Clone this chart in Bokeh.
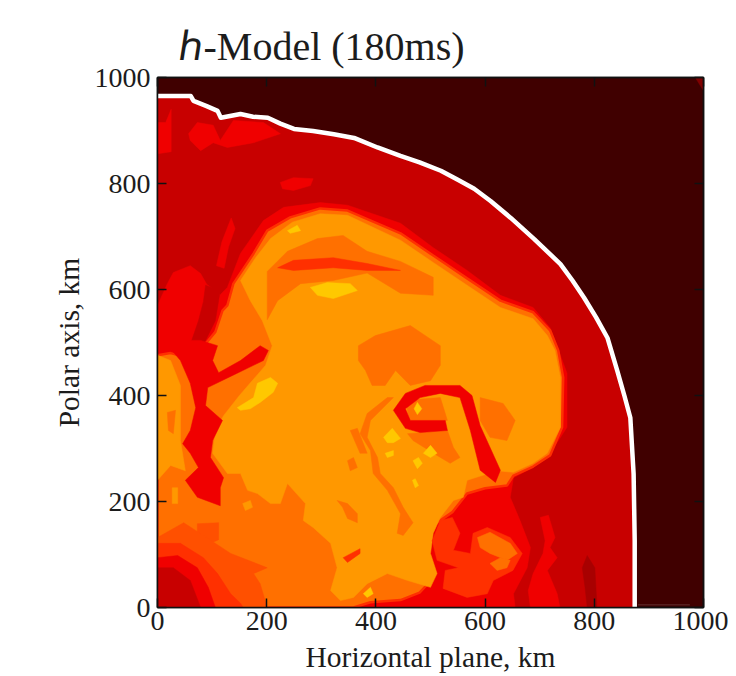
from bokeh.plotting import figure
from bokeh.models import LinearAxis, Title, FixedTicker
from bokeh.embed import file_html
from bokeh.resources import INLINE

# Tick values and texts
TICKS = [0, 200, 400, 600, 800, 1000]
X_LABEL = "Horizontal plane, km"
Y_LABEL = "Polar axis, km"
TITLE = "\u210e-Model (180ms)"

# Shock front (white curve), km
FRONT = [(0,965),(61,965),(66,956),(90,946),(110,937),(116,924),(152,931),(175,926),(202,924),(225,913),(250,903),(285,899),(323,893),(360,886),
         (403,868),(445,852),(480,840),(519,824),(550,807),(580,790),(610,767),(647,735),(690,695),(738,648),(760,617),(781,585),(803,548),(824,509),(842,447),
         (855,400),(866,358),(872,252),(874,126),(874,0)]

# Contour regions, km
CORNER = [(985,1000),(1000,1000),(1000,975)]
FAINT = [(880,5),(975,5)]
RED_TOP_A = [(0,915),(15,915),(25,940),(25,860),(0,856)]
RED_TOP_B = [(57,894),(73,915),(102,910),(115,881),(139,919),(194,915),(225,894),(176,877),(128,868),(102,877),(79,862),(60,881)]
RED_TOP_C = [(225,802),(249,811),(285,809),(280,796),(249,787),(229,790)]
RED_STREAK = [(108,645),(118,690),(135,735),(142,715),(130,680),(122,640)]
RED_BIG = [(0,0),(0,570),(18,611),(29,632),(60,645),(79,630),(90,610),(115,590),(128,604),(152,668),(194,730),(231,755),
           (298,764),(348,759),(445,725),(505,679),(567,636),(628,589),(688,566),(719,528),(750,442),(750,340),(719,291),
           (688,264),(652,245),(646,208),(664,164),(683,113),(677,75),(652,26),(655,0)]
RED_LOW = [(701,170),(716,174),(728,132),(719,113),(732,94),(714,70),(732,26),(737,0),(683,0),(679,32),(688,64),(706,102),(710,126)]
DARK_STREAK = [(778,75),(787,98),(801,75),(805,0),(787,0),(783,38)]
DARK_WEDGE = [(88,608),(115,598),(106,541),(88,504),(73,470),(60,496),(75,541),(84,577)]
ORANGE_BASE = [(0,0),(0,476),(24,480),(60,470),(90,500),(106,520),(119,560),(128,570),(139,611),(176,668),(201,711),(243,736),
               (298,753),(348,749),(445,706),(505,664),(567,621),(628,579),(688,557),(719,523),(734,485),(743,434),(741,340),
               (719,287),(688,266),(652,249),(640,230),(600,225),(567,215),(540,180),(505,155),(490,100),(500,50),(480,28),
               (445,14),(390,10),(359,0)]
MAIN = [(101,291),(106,334),(121,362),(150,400),(198,457),(210,494),(192,541),(170,579),(152,617),(179,659),(207,696),(247,727),
        (298,743),(348,740),(445,693),(505,651),(567,608),(628,566),(688,545),(714,513),(728,485),(738,434),(738,340),(714,291),
        (688,272),(652,255),(622,258),(567,240),(560,208),(542,202),(518,170),(505,140),(500,102),(512,64),(500,38),(458,51),
        (421,64),(384,45),(359,19),(335,13),(317,32),(329,75),(317,121),(285,151),(267,164),(271,196),(238,234),(225,196),
        (207,196),(183,215),(165,221),(152,253),(128,253)]
LEFT_COLUMN = [(0,476),(24,466),(42,419),(42,315),(51,258),(24,268),(0,240)]
DOME_BAND = [(201,634),(238,672),(293,696),(340,702),(384,672),(445,653),(505,623),(505,589),(445,593),(384,631),(322,617),(262,611),(220,579),(201,543)]
DOME_STREAK = [(220,641),(249,655),(322,660),(384,649),(445,636),(384,636),(322,641),(249,636)]
P1 = [(368,494),(399,513),(463,532),(518,494),(518,457),(500,428),(463,419),(436,447),(417,419),(393,419),(381,447),(368,466)]
P2 = [(432,396),(390,353),(384,321),(403,283),(408,253),(432,226),(450,189),(468,160),(450,136),(439,140),(445,177),(421,221),(395,253),(390,296),(371,328),(384,366),(421,396)]
P3 = [(329,202),(348,196),(366,177),(366,160),(348,168),(339,189)]
P4 = [(348,277),(359,283),(366,264),(353,258)]
P5 = [(353,334),(366,338),(384,291),(371,291)]
P6 = [(18,368),(33,372),(29,328),(20,334)]
P7 = [(27,226),(37,226),(37,196),(27,196)]
P8 = [(156,196),(170,202),(174,189),(161,183)]
P9 = [(454,391),(518,396),(531,353),(463,343)]
P10 = [(458,328),(531,334),(542,302),(554,283),(536,272),(512,287),(468,315)]
P11 = [(591,396),(633,385),(655,353),(640,315),(609,321),(591,353)]
RING = [(432,372),(454,404),(490,419),(554,419),(576,400),(591,343),(628,259),(619,236),(591,259),(573,334),(554,396),(518,404),(481,396),(454,375),(463,353),(527,353),(531,334),(481,330),(454,338)]
PLUME = [(11,504),(42,466),(60,423),(70,377),(60,334),(46,309),(60,291),(75,264),(51,240),(73,208),(115,192),(115,226),(121,245),(97,283),(101,315),(119,353),(88,381),(92,415),(146,442),(194,466),(203,485),(188,494),(152,466),(112,443),(101,466),(110,494),(79,504)]
SWIRL_A = [(503,126),(518,164),(540,170),(554,140),(542,108),(573,102),(578,140),(604,151),(646,132),(668,102),(651,70),(615,51),(604,26),(567,19),(523,36),(527,70),(551,75),(512,89)]
SWIRL_B = [(586,132),(609,142),(646,121),(659,102),(640,89),(609,102),(591,113)]
SWIRL_C = [(628,94),(646,89),(640,75),(622,70),(609,83)]
BAND_1 = [(0,0),(0,132),(48,160),(84,136),(134,102),(201,75),(176,64),(188,45),(201,0)]
BAND_2 = [(0,0),(0,121),(42,121),(84,94),(110,64),(134,26),(152,8),(157,0)]
BAND_3 = [(0,0),(0,94),(37,98),(73,75),(93,38),(106,0)]
BAND_4 = [(0,0),(0,75),(29,75),(60,51),(79,0)]
UNDER_PLUME = [(73,158),(112,160),(112,128),(90,118),(73,140)]
LOW_STREAK = [(340,94),(371,111),(371,102),(348,85)]
Y1 = [(280,604),(311,613),(353,611),(366,598),(322,583),(293,589)]
Y2 = [(238,711),(256,721),(262,711),(243,706)]
Y4 = [(146,377),(176,396),(183,423),(207,434),(220,423),(212,406),(188,387),(170,375),(152,372)]
Y5 = [(414,321),(430,338),(445,319),(432,311),(421,311)]
Y6 = [(487,291),(500,306),(512,291),(500,283)]
Y7 = [(468,277),(478,283),(485,272),(476,262)]
Y8 = [(467,240),(472,243),(478,230),(472,226)]
Y9 = [(417,291),(432,296),(432,287),(421,283)]
Y10 = [(470,375),(476,387),(484,375),(476,364)]
Y11 = [(377,26),(390,38),(395,26),(384,19)]

# Level colours
C_BG = "#400000"
C_DARK = "#c80000"
C_DEEP = "#a80000"
C_RED = "#f00000"
C_RO = "#ff3000"
C_RO2 = "#ff5000"
C_OR = "#ff7000"
C_MAIN = "#ff9800"
C_YEL = "#ffc800"
TEXT = "#1c1c1c"
SERIF = "Liberation Serif"

p = figure(frame_width=546, frame_height=530, min_border_left=157, min_border_right=25,
           min_border_top=77, min_border_bottom=60, x_range=(0, 1000), y_range=(0, 1000),
           output_backend="svg", toolbar_location=None, background_fill_color=C_BG,
           title=Title(text=TITLE, align="left", offset=21, standoff=17, text_font=SERIF,
                       text_font_style="normal", text_font_size="40px", text_color=TEXT))
p.grid.visible = False
p.outline_line_color = "#111111"
p.outline_line_width = 1.5


def fill(poly, color, edge=None, width=0):
    xs = [a for a, _ in poly]
    ys = [b for _, b in poly]
    p.patch(xs, ys, fill_color=color, line_color=edge or color, line_width=width or 0.5)


fill(FRONT + [(0, 0)], C_DARK)
fill(CORNER, "#800000")
p.line([a for a, _ in FAINT], [b for _, b in FAINT], line_color="#603030", line_width=1)
for poly in (RED_TOP_A, RED_TOP_B, RED_TOP_C, RED_STREAK, RED_BIG, RED_LOW):
    fill(poly, C_RED)
fill(DARK_STREAK, C_DEEP)
fill(DARK_WEDGE, C_DARK)
fill(ORANGE_BASE, C_OR, C_RO, 2.5)
fill(MAIN, C_MAIN)
fill(LEFT_COLUMN, C_MAIN)
fill(DOME_BAND, C_OR)
fill(DOME_STREAK, C_RO)
for poly in (P1, P2, P3, P4, P5, P6, P9, P10, P11):
    fill(poly, C_OR)
fill(P7, C_MAIN)
fill(P8, C_MAIN)
fill(RING, C_RED)
fill(PLUME, C_RED)
fill(SWIRL_A, C_RO)
fill(SWIRL_B, C_OR)
fill(SWIRL_C, C_OR)
fill(UNDER_PLUME, C_RO2)
fill(LOW_STREAK, C_RO)
fill(BAND_1, C_RO2)
fill(BAND_2, C_RO)
fill(BAND_3, C_RED)
fill(BAND_4, C_DARK)
for poly in (Y1, Y2, Y4, Y5, Y6, Y7, Y8, Y9, Y10, Y11):
    fill(poly, C_YEL)
p.line([a for a, _ in FRONT], [b for _, b in FRONT], line_color="white", line_width=4.5, line_join="round")

for ax in (p.xaxis[0], p.yaxis[0]):
    ax.ticker = FixedTicker(ticks=TICKS)
    ax.major_tick_in = 9
    ax.major_tick_out = 0
    ax.minor_tick_line_color = None
    ax.axis_line_color = "#111111"
    ax.axis_line_width = 1.5
    ax.major_tick_line_color = "#111111"
    ax.major_tick_line_width = 1.5
    ax.major_label_text_font = SERIF
    ax.major_label_text_font_size = "28px"
    ax.major_label_text_color = TEXT
    ax.axis_label_text_font = SERIF
    ax.axis_label_text_font_style = "normal"
    ax.axis_label_text_font_size = "29.5px"
    ax.axis_label_text_color = TEXT

p.xaxis[0].axis_label = X_LABEL
p.yaxis[0].axis_label = Y_LABEL
p.xaxis[0].major_label_standoff = 4
p.yaxis[0].major_label_standoff = 7
p.xaxis[0].axis_label_standoff = 8
p.yaxis[0].axis_label_standoff = 7

for side in ("above", "right"):
    ax = LinearAxis(ticker=FixedTicker(ticks=TICKS), major_tick_in=9, major_tick_out=0,
                    minor_tick_line_color=None, major_label_text_font_size="0px",
                    major_label_text_color=None, axis_line_color="#111111", axis_line_width=1.5,
                    major_tick_line_color="#111111", major_tick_line_width=1.5)
    p.add_layout(ax, side)

open("out.html", "w").write(file_html(p, INLINE))
